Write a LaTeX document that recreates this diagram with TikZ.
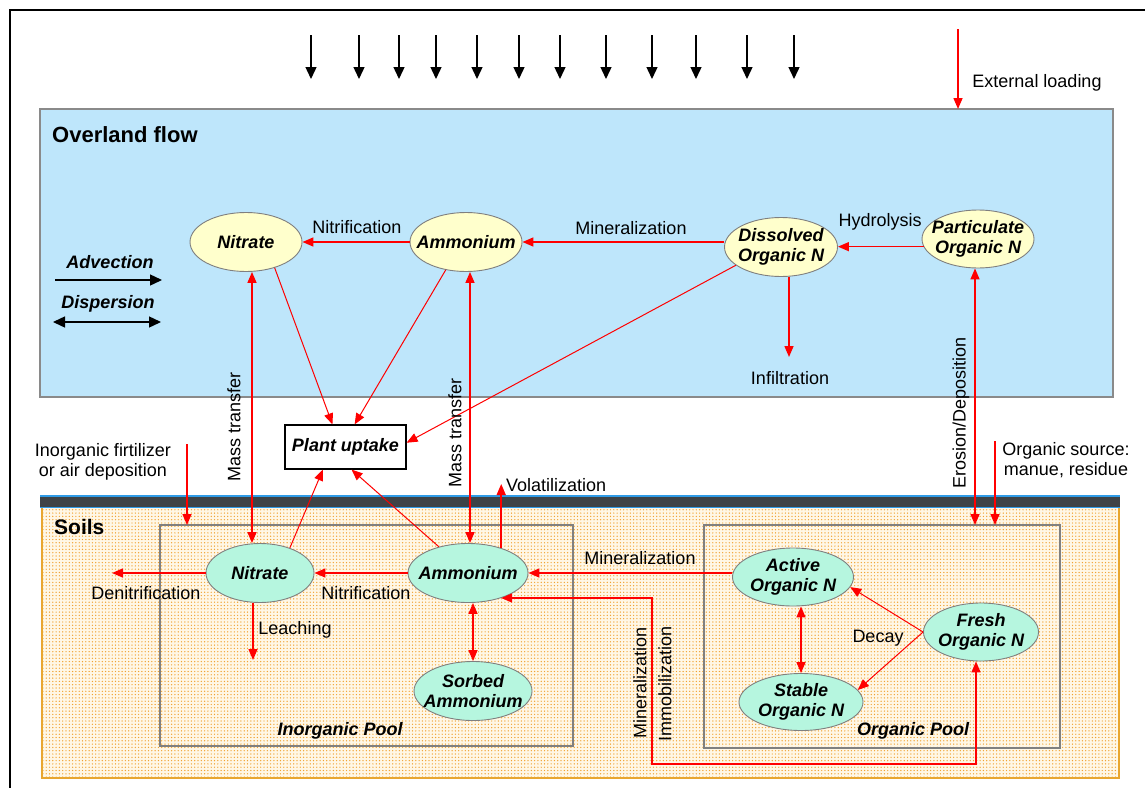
\documentclass[tikz,border=0pt]{standalone}
\usepackage{fontspec}
\setmainfont{Liberation Sans}
\usetikzlibrary{shapes.geometric,arrows.meta,patterns.meta,calc}
\definecolor{skyfill}{HTML}{BEE6FB}
\definecolor{skyborder}{HTML}{8A8A8A}
\definecolor{yelfill}{HTML}{FFFFCC}
\definecolor{aqufill}{HTML}{B6F6DF}
\definecolor{ellgray}{HTML}{7F7F7F}
\definecolor{poolgray}{HTML}{808080}
\definecolor{soilbg}{HTML}{FFF7E6}
\definecolor{soildot}{HTML}{F0A232}
\definecolor{soilborder}{HTML}{E8A630}
\definecolor{bandgray}{HTML}{3E4346}
\definecolor{bandblue}{HTML}{2F9BE6}
\definecolor{arrred}{HTML}{FF0000}
\tikzset{
  lbl/.style={font=\fontsize{18}{20}\selectfont, inner sep=0pt, align=center},
  nodetxt/.style={font=\fontsize{18}{20}\selectfont\bfseries\itshape, align=center},
  yel/.style={ellipse, draw=ellgray, fill=yelfill, nodetxt, inner xsep=-15pt, inner ysep=-6pt, line width=0.9pt},
  aqu/.style={ellipse, draw=ellgray, fill=aqufill, nodetxt, inner xsep=-15pt, inner ysep=-6pt, line width=0.9pt},
  rarr/.style={draw=arrred, line width=1.5pt, -{Triangle[length=11pt,width=9pt]}},
  rthin/.style={draw=arrred, line width=1pt, -{Triangle[length=11pt,width=9pt]}},
  rboth/.style={draw=arrred, line width=1.5pt, {Triangle[length=11pt,width=9pt]}-{Triangle[length=11pt,width=9pt]}},
  karr/.style={draw=black, line width=1.4pt, -{Triangle[length=12pt,width=11pt]}},
  kboth/.style={draw=black, line width=1.4pt, {Triangle[length=12pt,width=11pt]}-{Triangle[length=12pt,width=11pt]}},
  poolbox/.style={draw=poolgray, line width=1.3pt},
}
\begin{document}
\begin{tikzpicture}[x=1pt,y=-1pt]
\useasboundingbox (0,0) rectangle (1145,787);
\fill[white] (0,0) rectangle (1145,787);
% outer frame
\draw[black, line width=2.5pt] (10,800) -- (10,10) -- (1160,10);

% rain arrows
\foreach \xx in {311,359,399,436,477,519,560,606,652,696,747,794}
  \draw[karr] (\xx,35) -- (\xx,79);

% overland flow box
\filldraw[fill=skyfill, draw=skyborder, line width=1.2pt] (40,109) rectangle (1113,397);
\node[font=\fontsize{22}{24}\selectfont\bfseries, anchor=west, inner sep=0pt] (ovl) at (52,135) {Overland flow};

% external loading
\coordinate (extA) at (958,29);
\coordinate (extB) at (958,109);
\draw[rarr] (extA) -- (extB);
\node[lbl] (extlbl) at (1037,83) {External loading};

% advection / dispersion
\node[nodetxt, inner sep=0pt] (adv) at (110,262) {Advection};
\coordinate (advA) at (55,280);
\coordinate (advB) at (162,280);
\draw[karr] (advA) -- (advB);
\node[nodetxt, inner sep=0pt] (disp) at (108,304) {Dispersion};
\coordinate (dispA) at (53,322);
\coordinate (dispB) at (161,322);
\draw[kboth] (dispA) -- (dispB);

% soils band and area
\fill[soilbg] (42,508) rectangle (1119,778);
\fill[pattern={Dots[distance=3.3pt,radius=0.7pt]}, pattern color=soildot] (42,508) rectangle (1119,778);
\draw[soilborder, line width=1.6pt] (42,508) -- (42,778) -- (1119,778) -- (1119,508);
\fill[bandgray] (40,497) rectangle (1120,506.5);
\draw[bandblue, line width=1.5pt] (40,496) -- (1120,496);
\draw[bandblue, line width=1.8pt] (40,507.5) -- (1120,507.5);
\node[font=\fontsize{21}{23}\selectfont\bfseries, anchor=west, inner sep=0pt] (soils) at (54,527) {Soils};

% pools
\draw[poolbox] (160,525) rectangle (573,746);
\draw[poolbox] (704,525) rectangle (1060,748);
\node[nodetxt, inner sep=0pt] (inpool) at (340,731) {Inorganic Pool};
\node[nodetxt, inner sep=0pt] (orgpool) at (913,731) {Organic Pool};

% overland nodes
\node[yel, minimum width=112pt, minimum height=59pt] (oN) at (246,242) {Nitrate};
\node[yel, minimum width=112pt, minimum height=59pt] (oA) at (466,242) {Ammonium};
\node[yel, minimum width=113pt, minimum height=59pt] (oD) at (781,247) {Dissolved\\Organic N};
\node[yel, minimum width=112pt, minimum height=58pt] (oP) at (978,239) {Particulate\\Organic N};

% plant uptake
\node[draw=black, fill=white, line width=1.2pt, minimum width=121pt, minimum height=44pt, nodetxt, inner sep=0pt] (pu) at (345.5,447) {Plant uptake};

% soil nodes
\node[aqu, minimum width=108pt, minimum height=59pt] (sN) at (260,573) {Nitrate};
\node[aqu, minimum width=120pt, minimum height=59pt] (sA) at (468,573) {Ammonium};
\node[aqu, minimum width=118pt, minimum height=59pt] (sS) at (473,691) {Sorbed\\Ammonium};
\node[aqu, minimum width=121pt, minimum height=58pt] (sAc) at (793,577) {Active\\Organic N};
\node[aqu, minimum width=124pt, minimum height=57pt] (sSt) at (801,702) {Stable\\Organic N};
\node[aqu, minimum width=115pt, minimum height=58pt] (sF) at (981,632) {Fresh\\Organic N};

% overland arrows
\draw[rarr] (oA.west) -- (oN.east);
\node[lbl] (nitr1) at (357,227) {Nitrification};
\draw[rarr] (oD.west |- oA.east) -- (oA.east);
\node[lbl] (min1) at (631,228) {Mineralization};
\draw[rarr] (oP.188) -- (oP.188 -| oD.east);
\node[lbl] (hydro) at (880,222) {Hydrolysis};
\coordinate (infl) at (789,357);
\draw[rarr] (oD.south -| infl) -- (infl);
\node[lbl] (infltxt) at (790,378) {Infiltration};

% plant uptake arrows
\draw[rthin] (oN.-42) -- (pu.120);
\draw[rthin] (oA.-126) -- (pu.68);
\draw[rthin] (oD.-158) -- (pu.4);
\draw[rthin] (sN.40) -- (pu.-135);
\draw[rthin] (sA.138) -- (pu.-75);

% mass transfer
\coordinate (mt1) at (252,0);
\coordinate (mt2) at (470,0);
\draw[rboth] (oN.south -| mt1) -- (sN.north -| mt1);
\draw[rboth] (oA.south -| mt2) -- (sA.north -| mt2);
\node[lbl, rotate=90] (mtl1) at (234,427) {Mass transfer};
\node[lbl, rotate=90] (mtl2) at (455,433) {Mass transfer};

% erosion / deposition
\coordinate (erotop) at (975,525);
\draw[rboth] (oP.south -| erotop) -- (erotop);
\node[lbl, rotate=90] (erolbl) at (961,413) {Erosion/Deposition};

% organic source
\coordinate (osA) at (995,441);
\coordinate (osB) at (995,525);
\draw[rarr] (osA) -- (osB);
\node[lbl] (oslbl) at (1066,460) {Organic source:\\manue, residue};

% inorganic fertilizer
\coordinate (ifA) at (187,444);
\coordinate (ifB) at (187,525);
\draw[rarr] (ifA) -- (ifB);
\node[lbl] (iflbl) at (103,462) {Inorganic firtilizer\\or air deposition};

% soil inorganic arrows
\coordinate (denit) at (112,573);
\draw[rarr] (sN.west) -- (denit);
\node[lbl] (denitl) at (146,593) {Denitrification};
\draw[rarr] (sA.west) -- (sN.east);
\node[lbl] (nitr2) at (366,593) {Nitrification};
\coordinate (leach) at (253,660);
\draw[rarr] (sN.south -| leach) -- (leach);
\node[lbl] (leachl) at (295,630) {Leaching};
\draw[rboth] (sS.north) -- (sS.north |- sA.south);
\coordinate (volat) at (501,484);
\draw[rarr] (sA.37) -- (sA.37 |- volat);
\node[lbl, anchor=west] (volatl) at (506,485) {Volatilization};

% organic to inorganic
\draw[rarr] (sAc.west |- sA.east) -- (sA.east);
\node[lbl] (min2) at (640,558) {Mineralization};
\coordinate (mi1) at (652,764);
\coordinate (mi2) at (976,764);
\draw[rboth] (sA.-37) -- (sA.-37 -| mi1) -- (mi1) -- (mi2) -- (mi2 |- sF.south);
\node[lbl, rotate=90] (min3) at (640,683) {Mineralization};
\node[lbl, rotate=90] (immob) at (665,684) {Immobilization};

% organic pool arrows
\draw[rboth] (sSt.north) -- (sSt.north |- sAc.south);
\draw[rthin] (sF.west) -- (sAc.-10);
\draw[rthin] (sF.west) -- (sSt.12);
\node[lbl] (decay) at (878,638) {Decay};
\end{tikzpicture}
\end{document}
